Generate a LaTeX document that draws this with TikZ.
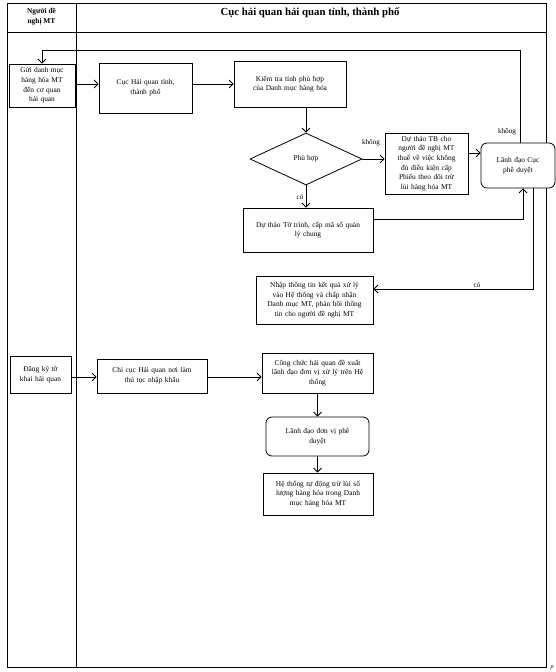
\documentclass[tikz,border=0pt]{standalone}
\usepackage{fontspec}
\setmainfont{Liberation Serif}
\usetikzlibrary{shapes.geometric,arrows.meta}
\begin{document}
\begin{tikzpicture}[x=1pt,y=-1pt,
  every node/.style={font=\fontsize{7.4}{9.6}\selectfont, align=center, inner sep=1pt},
  box/.style={draw, line width=0.8pt, fill=white},
  rbox/.style={box, rounded corners=6pt},
  lbl/.style={font=\fontsize{7.2}{8}\selectfont},
  conn/.style={line width=0.8pt, -{Straight Barb[length=4pt,width=8pt]}},
  frame/.style={line width=1pt}]
\useasboundingbox (0,0) rectangle (556,672);
% table
\draw[frame] (7,3) rectangle (546,667);
\draw[frame] (7,32) -- (546,32);
\draw[frame] (76,3) -- (76,667);
\node[font=\bfseries\fontsize{7.4}{10}\selectfont] (h1) at (41.5,17) {Người đề\\nghị MT};
\node[font=\bfseries\fontsize{10.8}{12}\selectfont] (h2) at (310,13) {Cục hải quan hải quan tỉnh, thành phố};
\node[font=\itshape\fontsize{6}{7}\selectfont] (pg) at (552,668) {p};
% nodes
\node[box, minimum width=66pt, minimum height=43pt, text width=62pt] (gui) at (42,85.5) {Gửi danh mục\\hàng hóa MT\\đến cơ quan\\hải quan};
\node[box, minimum width=93pt, minimum height=50pt, text width=88pt] (cuc) at (145.5,88) {Cục Hải quan tỉnh,\\thành phố};
\node[box, minimum width=112pt, minimum height=46pt, text width=108pt] (kt) at (290,84) {Kiểm tra tính phù hợp\\của Danh mục hàng hóa};
\node[draw, line width=0.8pt, diamond, aspect=2.2, minimum width=112pt, minimum height=52pt, inner sep=0pt] (ph) at (306,159) {Phù hợp};
\node[box, minimum width=83pt, minimum height=61pt, text width=81pt] (tb) at (426.5,163.5) {Dự thảo TB cho\\người đề nghị MT\\thuế về việc không\\đủ điều kiện cấp\\Phiếu theo dõi trừ\\lùi hàng hóa MT};
\node[rbox, minimum width=74pt, minimum height=45pt, text width=70pt] (lc) at (518,165.5) {Lãnh đạo Cục\\phê duyệt};
\node[box, minimum width=130pt, minimum height=44pt, text width=126pt] (tt) at (308,230) {Dự thảo Tờ trình, cấp mã số quản\\lý chung};
\node[box, minimum width=117pt, minimum height=48pt, text width=115pt] (np) at (314.5,300) {Nhập thông tin kết quả xử lý\\vào Hệ thống và chấp nhận\\Danh mục MT, phản hồi thông\\tin cho người đề nghị MT};
\node[box, minimum width=61pt, minimum height=37pt, text width=59pt] (dk) at (40.5,374.5) {Đăng ký tờ\\khai hải quan};
\node[box, minimum width=110pt, minimum height=34pt, text width=106pt] (cc) at (152,376) {Chi cục Hải quan nơi làm\\thủ tục nhập khẩu};
\node[box, minimum width=111pt, minimum height=40pt, text width=109pt] (cong) at (317.5,373) {Công chức hải quan đề xuất\\lãnh đạo đơn vị xử lý trên Hệ\\thống};
\node[rbox, minimum width=103pt, minimum height=39pt, text width=98pt] (ldv) at (317.5,436.5) {Lãnh đạo đơn vị phê\\duyệt};
\node[box, minimum width=110pt, minimum height=42pt, text width=108pt] (ht) at (318,494) {Hệ thống tự động trừ lùi số\\lượng hàng hóa trong Danh\\mục hàng hóa MT};
% coordinates
\coordinate (tl) at (42,50);
\coordinate (tr) at (520,50);
\coordinate (yk) at (0,153);
\coordinate (xa) at (523,219);
\coordinate (xb) at (533,289);
\coordinate (ya) at (0,84);
\coordinate (yb) at (0,377);
% connectors
\draw[conn] (tr |- lc.north) -- (tr) -- (tl) -- (gui.north);
\draw[conn] (gui.east |- ya) -- (cuc.west |- ya);
\draw[conn] (cuc.east |- ya) -- (kt.west |- ya);
\draw[conn] (kt.south -| ph.north) -- (ph.north);
\draw[conn] (ph.east) -- (ph.east -| tb.west);
\draw[conn] (tb.east |- yk) -- (lc.west |- yk);
\draw[conn] (ph.south) -- (tt.north -| ph.south);
\draw[conn] (tt.east |- xa) -- (xa) -- (xa |- lc.south);
\draw[conn] (xb |- lc.south) -- (xb) -- (np.east |- xb);
\draw[conn] (dk.east |- yb) -- (cc.west |- yb);
\draw[conn] (cc.east |- yb) -- (cong.west |- yb);
\draw[conn] (cong.south) -- (ldv.north -| cong.south);
\draw[conn] (ldv.south -| cong.south) -- (ht.north -| cong.south);
% labels
\node[lbl] (k1) at (371,143) {không};
\node[lbl] (k2) at (507,132) {không};
\node[lbl] (c1) at (300,197) {có};
\node[lbl] (c2) at (477,285) {có};
\end{tikzpicture}
\end{document}
